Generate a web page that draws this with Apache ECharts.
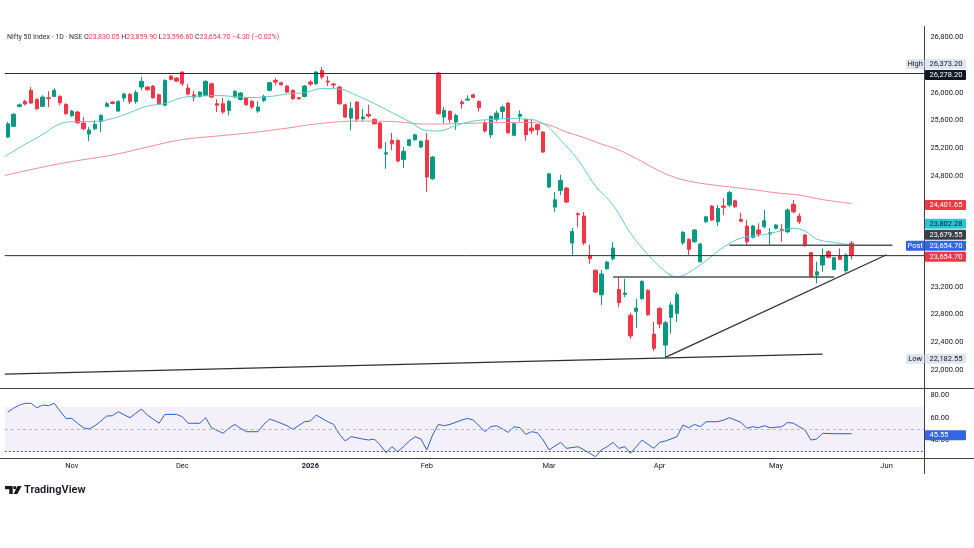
<!DOCTYPE html>
<html><head><meta charset="utf-8">
<script src="https://cdn.jsdelivr.net/npm/echarts@6/dist/echarts.min.js"></script>
<style>html,body{margin:0;padding:0;background:#fff}#c{width:974px;height:548px}</style>
</head><body><div id="c"></div>
<script>
const FONT = 'Roboto, "Noto Sans", sans-serif';

// Daily candles: [open, close, low, high], one per trading day (index 0..145)
const ohlc = [
[25361,25553,25347,25578],[25516,25689,25505,25707],[25804,25827,25790,25845],[25876,25837,25819,25899],
[26035,25852,25842,26083],[25905,25769,25755,25920],[25804,25938,25794,25963],[25928,25917,25794,26021],
[25948,26035,25938,26068],[25948,25856,25819,25963],[25833,25697,25683,25848],[25668,25736,25655,25750],
[25722,25567,25553,25736],[25563,25481,25458,25650],[25404,25462,25303,25505],[25481,25544,25458,25602],
[25588,25674,25433,25689],[25804,25842,25794,25866],[25866,25847,25833,25880],[25736,25876,25722,25890],
[25924,25982,25876,26000],[25977,25876,25837,25996],[25876,26006,25842,26035],[26083,26165,26035,26227],
[26083,26044,26030,26097],[26097,25928,25914,26112],[25971,25842,25827,25985],[25819,26179,25805,26194],
[26241,26194,26179,26256],[26212,26169,26155,26227],[26299,26130,26097,26309],[26068,25982,25963,26130],
[25971,25938,25876,26029],[25948,26010,25931,26025],[25963,26165,25950,26180],[26130,25938,25924,26145],
[25842,25819,25722,25905],[25842,25722,25697,25924],[25746,25876,25674,25899],[25938,26021,25924,26039],
[25905,25996,25890,26010],[25924,25827,25813,25938],[25876,25794,25769,25899],[25736,25794,25712,25876],
[25891,25948,25866,25971],[26035,26145,26020,26160],[26179,26155,26107,26212],[26145,26116,26102,26160],
[26097,26010,25996,26112],[26035,25914,25899,26050],[25928,25914,25900,25940],[25948,26097,25934,26112],
[26155,26126,26097,26179],[26130,26299,26116,26313],[26324,26227,26194,26373.2],[26169,26155,26097,26241],
[26126,26112,26068,26145],[26083,25842,25827,26097],[25827,25650,25636,25842],[25635,25770,25458,25866],
[25866,25621,25578,25880],[25625,25650,25592,25765],[25689,25664,25640,25827],[25616,25553,25540,25630],
[25563,25202,25188,25578],[25116,25135,24904,25289],[25313,25264,25173,25419],[25313,25015,25000,25330],
[25039,25155,24914,25217],[25241,25322,25226,25336],[25322,25394,25308,25408],[25217,25299,25203,25313],
[25313,24784,24567,25419],[24759,25072,24745,25087],[26285,25697,25683,26300],[25650,25746,25559,25794],
[25732,25616,25567,25746],[25578,25674,25466,25697],[25866,25842,25769,25899],[25895,25909,25885,25963],
[25971,25934,25920,25985],[25876,25784,25732,25890],[25563,25448,25424,25602],[25394,25660,25347,25674],
[25616,25707,25588,25746],[25732,25794,25635,25819],[25852,25423,25408,25866],[25386,25553,25372,25567],
[25660,25689,25588,25746],[25616,25394,25308,25625],[25491,25452,25409,25625],[25539,25467,25386,25553],
[25433,25145,25130,25448],[24640,24831,24625,24845],[24351,24456,24279,24568],[24592,24736,24524,24817],
[24625,24423,24408,24640],[23832,24000,23663,24048],[24254,24240,24062,24279],[24221,23832,23803,24279],
[23654,23605,23533,23807],[23438,23124,23110,23452],[23085,23384,22937,23442],[23461,23557,23447,23572],
[23605,23759,23580,23846],[23163,22970,22908,23341],[23091,23110,23052,23316],[22788,22490,22451,22826],
[22846,22894,22605,23028],[23028,23279,23014,23294],[23149,22797,22783,23165],[22518,22312,22273,22692],
[22889,22663,22601,22913],[22360,22681,22182.55,22706],[22759,22937,22528,22985],[22817,23091,22692,23125],
[23836,23986,23803,24005],[23885,23741,23658,23899],[23850,24019,23836,24034],[23562,23817,23548,23832],
[24139,24211,24125,24226],[24366,24163,24149,24380],[24139,24332,24077,24380],[24366,24347,24236,24477],
[24380,24560,24351,24586],[24442,24355,24340,24456],[24174,24145,24135,24269],[24077,23850,23803,24163],
[23914,24077,23900,24092],[24019,23962,23923,24116],[24067,24153,24044,24308],[23962,23980,23788,24048],
[24044,24092,24030,24106],[24029,24009,23850,24101],[23995,24308,23972,24332],[24390,24283,24260,24452],
[24221,24139,24106,24260],[23947,23793,23780,23962],[23692,23345,23330,23707],[23370,23417,23250,23562],
[23514,23644,23417,23755],[23706,23625,23611,23730],[23452,23620,23438,23635],[23644,23596,23586,23755],
[23432,23659,23403,23680],[23830.05,23654.70,23596.60,23859.90]
];

// Fast moving average (cyan), read at sample days: [dayIndex, value]
const maFast = [[-0.5,25080],[3,25257],[6,25397],[9,25553],[12,25585],[15,25588],[18,25628],[21,25715],
[24,25808],[27,25844],[30,25931],[33,25953],[36,25960],[39,25946],[42,25931],[45,25946],[48,25982],
[51,26003],[54,26061],[57,26054],[60,25960],[63,25844],[66,25715],[69,25585],[72,25455],[74,25448],
[77,25527],[80,25592],[83,25614],[86,25628],[89,25621],[92,25556],[95,25318],[98,25029],[101,24654],
[104,24380],[107,23976],[110,23666],[113,23420],[115,23345],[117,23406],[120,23579],[123,23774],
[126,23904],[129,23940],[132,23990],[135,24044],[137,24005],[139,23889],[142,23839],[145,23802.28]];

// Slow moving average (red), read at sample days
const maSlow = [[-0.5,24806],[6,24928],[12,25022],[18,25102],[24,25217],[30,25325],[36,25376],[42,25426],
[48,25490],[54,25560],[60,25592],[66,25585],[72,25549],[78,25556],[84,25570],[90,25570],[93,25534],
[96,25433],[99,25354],[102,25260],[105,25174],[108,25051],[111,24914],[114,24798],[117,24726],
[120,24683],[124,24642],[128,24603],[132,24557],[136,24524],[140,24459],[145,24401.65]];

// RSI per day (null = not read)
const rsi = [65,68.5,71.4,73,73,69,71.4,70.8,73,66,59.4,59.4,55,51,49.8,52.8,57,61.5,61.8,65.4,
null,60,64,67.8,62.4,null,55,63,null,63,60.9,55,null,55,60,51,null,46,50.5,54,
50.5,47.4,null,47.4,54,58.8,57,null,52.8,49.5,null,56.4,57,62.4,59.4,56.4,54,45,39,42.9,
null,40.8,39.9,40.8,35.4,28.5,33.9,29.4,33.9,39,42.9,40.8,31,44.4,54,52.8,54,null,57.9,59.4,
57.9,null,47.4,51.9,52.8,null,46.8,51.9,51,45,47.4,46.5,39.9,31,null,37.8,32.4,null,33.9,31,
27.9,24.9,31,33.9,37.8,32.4,33.9,27.9,33.9,39.9,36,32.4,37.8,39,null,42.9,53.4,51,54,51.9,
56.4,null,56.4,57.9,60,null,55.8,50.5,51.9,51,52.8,51,null,51.9,55.8,55,null,48.9,39.9,40.8,
45.9,null,45.6,45.6,null,45.55];

// Drawn levels and trend lines: [dayIndex, price]
const levelTop = [[-0.5,26278.2],[157.5,26278.2]];
const levelMid = [[-0.5,23650],[157.5,23650]];
const rayUpper = [[124,23800],[152,23800]];
const rayLower = [[104,23341],[142,23341]];
const trendUp = [[113,22182.55],[151,23663]];
const trendBase = [[-0.5,21941],[140,22230]];

// Axis ticks
const monthTickIdx = [11,30,52,72,93,112,132,151];
const monthTickText = ['Nov','Dec','2026','Feb','Mar','Apr','May','Jun'];
const priceTicks = [26800,26000,25600,25200,24800,23200,22800,22400,22000];
const rsiTicks = [40,60,80];
const rsiBand = [30,50,70];

// Price scale tags
const priceTags = [
  {v:26373.2, tag:'High', kind:'info'},
  {v:26278.2, kind:'black'},
  {v:24401.65, kind:'slow'},
  {v:23802.28, kind:'fast'},
  {v:23679.55, kind:'dark'},
  {v:23654.70, tag:'Post', kind:'post'},
  {v:23654.70, kind:'close'},
  {v:22182.55, tag:'Low', kind:'info'}
];
const rsiLast = 45.55;
const legendTitle = 'Nifty 50 Index · 1D · NSE';
const legendVals = [['O','23,830.05'],['H','23,859.90'],['L','23,596.60'],['C','23,654.70']];
const legendChange = '−4.30 (−0.02%)';

const UP = '#089981', DOWN = '#f23645', TXT = '#131722';
const fmt = v => v.toLocaleString('en-US',{minimumFractionDigits:2, maximumFractionDigits:2});

function drawLine(pts, color, width) {
  return {type:'line', xAxisIndex:0, yAxisIndex:0, data:pts, symbol:'none', silent:true, z:4,
    lineStyle:{color:color, width:width}, animation:false};
}

const chart = echarts.init(document.getElementById('c'));
const option = {
  animation:false,
  backgroundColor:'#ffffff',
  grid:[
    {left:4.8, right:49.6, top:28, height:360},
    {left:4.8, right:49.6, top:389, height:69}
  ],
  xAxis:[
    {type:'value', gridIndex:0, min:-0.5, max:157.5, show:false},
    {type:'value', gridIndex:1, min:-0.5, max:157.5,
     axisLine:{show:false}, axisTick:{show:false}, splitLine:{show:false},
     axisLabel:{customValues:monthTickIdx, margin:4, fontSize:7.5, color:TXT, fontFamily:FONT,
       formatter:function(v){const t = monthTickText[monthTickIdx.indexOf(v)] || ''; return /^\d{4}$/.test(t) ? '{b|'+t+'}' : t;},
       rich:{b:{fontWeight:'bold', fontSize:7.5, color:TXT, fontFamily:FONT}}}}
  ],
  yAxis:[
    {type:'value', gridIndex:0, position:'right', min:21740, max:26935,
     axisLine:{show:false}, axisTick:{show:false}, splitLine:{show:false},
     axisLabel:{customValues:priceTicks, formatter:fmt, margin:6, fontSize:7.5, color:TXT, fontFamily:FONT}},
    {type:'value', gridIndex:1, position:'right', min:23.7, max:85.9,
     axisLine:{show:false}, axisTick:{show:false}, splitLine:{show:false},
     axisLabel:{customValues:rsiTicks, formatter:fmt, margin:6, fontSize:7.5, color:TXT, fontFamily:FONT}}
  ],
  series:[
    {type:'candlestick', xAxisIndex:0, yAxisIndex:0, barWidth:3.8,
     data:ohlc.map((d,i)=>[i].concat(d)),
     itemStyle:{color:UP, color0:DOWN, borderColor:UP, borderColor0:DOWN, borderWidth:1}, z:2},
    {type:'line', xAxisIndex:0, yAxisIndex:0, data:maSlow, symbol:'none', smooth:0.4, silent:true, z:3,
     lineStyle:{color:'#ec8d94', width:1}},
    {type:'line', xAxisIndex:0, yAxisIndex:0, data:maFast, symbol:'none', smooth:0.4, silent:true, z:3,
     lineStyle:{color:'#62c8d0', width:1}},
    drawLine(levelTop, '#2a2e39', 1),
    drawLine(levelMid, '#2a2e39', 1),
    drawLine(rayUpper, '#50535e', 1.5),
    drawLine(rayLower, '#50535e', 1.5),
    drawLine(trendUp, '#2a2e39', 1.2),
    drawLine(trendBase, '#2a2e39', 1.2),
    {type:'line', xAxisIndex:1, yAxisIndex:1, data:rsi.map((v,i)=>[i,v]), connectNulls:true,
     symbol:'none', silent:true, lineStyle:{color:'#2f5fd0', width:1}, z:3,
     markArea:{silent:true, itemStyle:{color:'rgba(126,87,194,0.09)'}, data:[[{yAxis:rsiBand[2]},{yAxis:rsiBand[0]}]]},
     markLine:{silent:true, symbol:'none', label:{show:false}, animation:false,
       data:[{yAxis:rsiBand[1], lineStyle:{type:[3,3], color:'#b2b5be', width:1}},
             {yAxis:rsiBand[0], lineStyle:{type:[2,2], color:'#50535e', width:1}}]}}
  ]
};
chart.setOption(option);

// ---- overlays (pane frame, price tags, legend, logo)
const tagStyle = {
  info:{bg:'#dfe6f1', fg:TXT}, black:{bg:'#131722', fg:'#fff'}, slow:{bg:'#f23645', fg:'#fff'},
  fast:{bg:'#2cc5d4', fg:TXT}, dark:{bg:'#3a3e48', fg:'#fff'}, post:{bg:'#3366e0', fg:'#fff'},
  close:{bg:'#f23645', fg:'#fff'}, rsi:{bg:'#3366e0', fg:'#fff'}
};
const g = [];
const F = '7.5px ' + FONT;
g.push({type:'line', z:50, shape:{x1:0,y1:388.5,x2:974,y2:388.5}, style:{stroke:'#3a3e48', lineWidth:1}});
g.push({type:'line', z:50, shape:{x1:0,y1:458.5,x2:974,y2:458.5}, style:{stroke:'#3a3e48', lineWidth:1}});
g.push({type:'line', z:50, shape:{x1:924.5,y1:26,x2:924.5,y2:474}, style:{stroke:'#3a3e48', lineWidth:1}});

function tagBox(y, text, kind, tag) {
  const s = tagStyle[kind];
  g.push({type:'rect', z:60, shape:{x:925, y:y-5, width:41, height:10, r:1}, style:{fill:s.bg}});
  g.push({type:'text', z:61, x:929.5, y:y, style:{text:text, fill:s.fg, font:F, verticalAlign:'middle', align:'left'}});
  if (tag) {
    g.push({type:'rect', z:60, shape:{x:906, y:y-5, width:18.5, height:10, r:1}, style:{fill:s.bg}});
    g.push({type:'text', z:61, x:915.2, y:y, style:{text:tag, fill:s.fg, font:F, verticalAlign:'middle', align:'center'}});
  }
}
const tags = priceTags.map(t => Object.assign({}, t, {y: chart.convertToPixel({yAxisIndex:0}, t.v) + 1.5}));
tags.sort((a,b) => (a.y - b.y) || ((a.kind==='close') - (b.kind==='close')));
for (let i = tags.length - 2; i >= 0; i--) tags[i].y = Math.min(tags[i].y, tags[i+1].y - 11);
tags.forEach(t => tagBox(t.y, fmt(t.v), t.kind, t.tag));
tagBox(chart.convertToPixel({yAxisIndex:1}, rsiLast) + 1.5, fmt(rsiLast), 'rsi');

// legend
let rich = '{n|' + legendTitle + '} ' + legendVals.map(p => '{k|' + p[0] + '}{v|' + p[1] + '}').join(' ') + ' {v|' + legendChange + '}';
g.push({type:'text', z:61, x:7, y:37.5, style:{text:rich, verticalAlign:'middle', font:'7px ' + FONT,
  rich:{n:{fill:'#2a2e39', font:'7px ' + FONT}, k:{fill:'#2a2e39', font:'7px ' + FONT}, v:{fill:DOWN, font:'7px ' + FONT}}}});

// logo
g.push({type:'polygon', z:61, shape:{points:[[5,486],[12.7,486],[12.7,494],[9.3,494],[9.3,489.2],[5,489.2]]}, style:{fill:TXT}});
g.push({type:'circle', z:61, shape:{cx:14.8, cy:487.7, r:1.6}, style:{fill:TXT}});
g.push({type:'polygon', z:61, shape:{points:[[17.6,486],[21.6,486],[17.4,494],[13.6,494]]}, style:{fill:TXT}});
g.push({type:'text', z:61, x:24, y:490.5, style:{text:'TradingView', fill:TXT, font:'600 11px ' + FONT, verticalAlign:'middle'}});

chart.setOption({graphic:g});
</script>
</body></html>
